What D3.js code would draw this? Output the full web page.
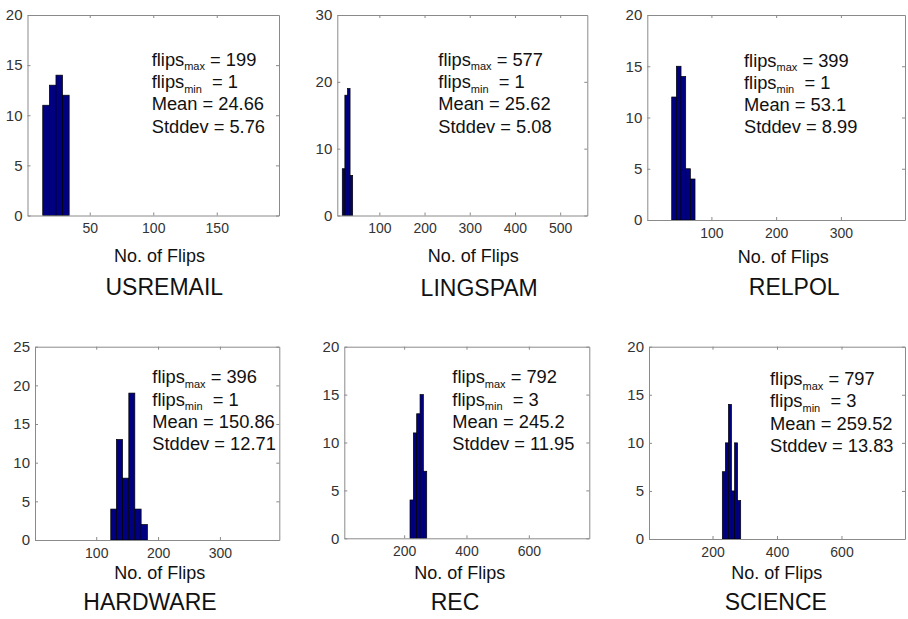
<!DOCTYPE html>
<html><head><meta charset="utf-8">
<script src="https://cdn.jsdelivr.net/npm/d3@7"></script>
<style>
body{margin:0;background:#fff;}
svg text{font-family:"Liberation Sans",Arial,sans-serif;}
</style>
</head><body>
<svg id="chart" width="908" height="619"></svg>
<script>
// ---------- data ----------
const datasetNames = ["USREMAIL","LINGSPAM","RELPOL","HARDWARE","REC","SCIENCE"];
const flipsMax = [199, 577, 399, 396, 792, 797];
const flipsMin = [1, 1, 1, 1, 3, 3];
const meanFlips = ["24.66", "25.62", "53.1", "150.86", "245.2", "259.52"];
const stddevFlips = ["5.76", "5.08", "8.99", "12.71", "11.95", "13.83"];

const usremailEdges = [13, 18.2, 23.4, 28.6, 33.8];
const usremailCounts = [11, 13, 14, 12];
const lingspamEdges = [18, 23.75, 29.5, 35.25, 41];
const lingspamCounts = [7, 18, 19, 6];
const relpolEdges = [38.7, 45.9, 53.1, 60.3, 67.5, 74.7];
const relpolCounts = [12, 15, 14, 5, 4];
const hardwareEdges = [123.5, 132.6, 142.6, 152.7, 162.4, 172.6, 182.8];
const hardwareCounts = [4, 13, 8, 19, 4, 2];
const recEdges = [218.8, 229.5, 240.2, 251.0, 261.7, 272.4];
const recCounts = [4, 11, 13, 15, 7];
const scienceEdges = [230.4, 239.9, 249.4, 258.9, 268.4, 277.9, 287.4];
const scienceCounts = [7, 10, 14, 5, 10, 4];

const xLimits = [[1,199],[7,560],[1,399],[1,396],[8,794],[3,797]];
const xTickValues = [[50,100,150],[100,200,300,400,500],[100,200,300],[100,200,300],[200,400,600],[200,400,600]];
const yMax = [20, 30, 20, 25, 20, 20];
const yTickValues = [[0,5,10,15,20],[0,10,20,30],[0,5,10,15,20],[0,5,10,15,20,25],[0,5,10,15,20],[0,5,10,15,20]];
const xAxisLabel = "No. of Flips";

const allEdges = [usremailEdges, lingspamEdges, relpolEdges, hardwareEdges, recEdges, scienceEdges];
const allCounts = [usremailCounts, lingspamCounts, relpolCounts, hardwareCounts, recCounts, scienceCounts];

// ---------- layout ----------
const boxes = [
  {l:27.5, r:279,   t:15,    b:215.5},
  {l:337.3,r:587.3, t:15,    b:215.5},
  {l:647.3,r:905,   t:15,    b:220},
  {l:35,   r:279.3, t:346.7, b:540},
  {l:344.3,r:589.3, t:346.7, b:538.3},
  {l:649,  r:905,   t:346.7, b:539}
];
const statsPos = [[151.7,65.7],[438.3,65.7],[744,66.5],[152.3,383.3],[452.3,383.3],[770,385]];
const xlabPos = [[159.5,261.7],[473.3,261.7],[783.3,263.3],[159.7,579.3],[459.7,579.3],[776.7,579.3]];
const titlePos = [[164.3,295],[479.2,296],[794.2,295],[150,610],[455,610],[775.8,610]];

const svg = d3.select("#chart");
svg.append("rect").attr("width",908).attr("height",619).attr("fill","#fff");

datasetNames.forEach((name, i) => {
  const bx = boxes[i];
  const x = d3.scaleLinear().domain(xLimits[i]).range([bx.l, bx.r]);
  const y = d3.scaleLinear().domain([0, yMax[i]]).range([bx.b, bx.t]);
  const g = svg.append("g");

  // bars
  const bins = allCounts[i].map((c, k) => ({x0: allEdges[i][k], x1: allEdges[i][k+1], c}));
  g.selectAll("rect.bar").data(bins).enter().append("rect")
    .attr("class","bar")
    .attr("x", d => x(d.x0))
    .attr("width", d => x(d.x1) - x(d.x0))
    .attr("y", d => y(d.c))
    .attr("height", d => y(0) - y(d.c))
    .attr("fill", "#000080")
    .attr("stroke", "#000")
    .attr("stroke-width", 0.7);

  // axes (bottom / left with labels, top / right mirrored ticks)
  const axColor = "#8a8a8a";
  const xb = g.append("g").attr("transform", `translate(0,${bx.b})`)
    .call(d3.axisBottom(x).tickValues(xTickValues[i]).tickSize(-3).tickPadding(8).tickSizeOuter(0));
  const xt = g.append("g").attr("transform", `translate(0,${bx.t})`)
    .call(d3.axisTop(x).tickValues(xTickValues[i]).tickSize(-3).tickFormat("").tickSizeOuter(0));
  const yl = g.append("g").attr("transform", `translate(${bx.l},0)`)
    .call(d3.axisLeft(y).tickValues(yTickValues[i]).tickSize(-3).tickPadding(5).tickSizeOuter(0));
  const yr = g.append("g").attr("transform", `translate(${bx.r},0)`)
    .call(d3.axisRight(y).tickValues(yTickValues[i]).tickSize(-3).tickFormat("").tickSizeOuter(0));
  [xb, xt, yl, yr].forEach(a => {
    a.select(".domain").attr("stroke", axColor).attr("stroke-width", 1);
    a.selectAll(".tick line").attr("stroke", axColor);
  });
  xb.selectAll(".tick text").attr("font-size", 14).attr("fill", "#333")
    .attr("font-family", '"Liberation Sans",Arial,sans-serif');
  yl.selectAll(".tick text").attr("font-size", 15).attr("fill", "#333")
    .attr("font-family", '"Liberation Sans",Arial,sans-serif');

  // stats text
  const [sx, sy] = statsPos[i];
  const lh = 22.3;
  const t1 = g.append("text").attr("x", sx).attr("y", sy).attr("font-size", 18.3).attr("fill", "#111");
  t1.append("tspan").text("flips");
  t1.append("tspan").attr("font-size", 11).attr("dy", 4.5).text("max");
  t1.append("tspan").attr("dy", -4.5).text(" = " + flipsMax[i]);
  const t2 = g.append("text").attr("x", sx).attr("y", sy + lh).attr("font-size", 18.3).attr("fill", "#111");
  t2.append("tspan").text("flips");
  t2.append("tspan").attr("font-size", 11).attr("dy", 4.5).text("min");
  t2.append("tspan").attr("dy", -4.5).text("\u00A0\u00A0= " + flipsMin[i]);
  g.append("text").attr("x", sx).attr("y", sy + 2*lh).attr("font-size", 18.3).attr("fill", "#111")
    .text("Mean = " + meanFlips[i]);
  g.append("text").attr("x", sx).attr("y", sy + 3*lh).attr("font-size", 18.3).attr("fill", "#111")
    .text("Stddev = " + stddevFlips[i]);

  // x label
  g.append("text").attr("x", xlabPos[i][0]).attr("y", xlabPos[i][1]).attr("text-anchor","middle")
    .attr("font-size", 18).attr("fill", "#111").text(xAxisLabel);
  // title
  g.append("text").attr("x", titlePos[i][0]).attr("y", titlePos[i][1]).attr("text-anchor","middle")
    .attr("font-size", 23).attr("fill", "#111").text(name);
});
</script>
</body></html>
